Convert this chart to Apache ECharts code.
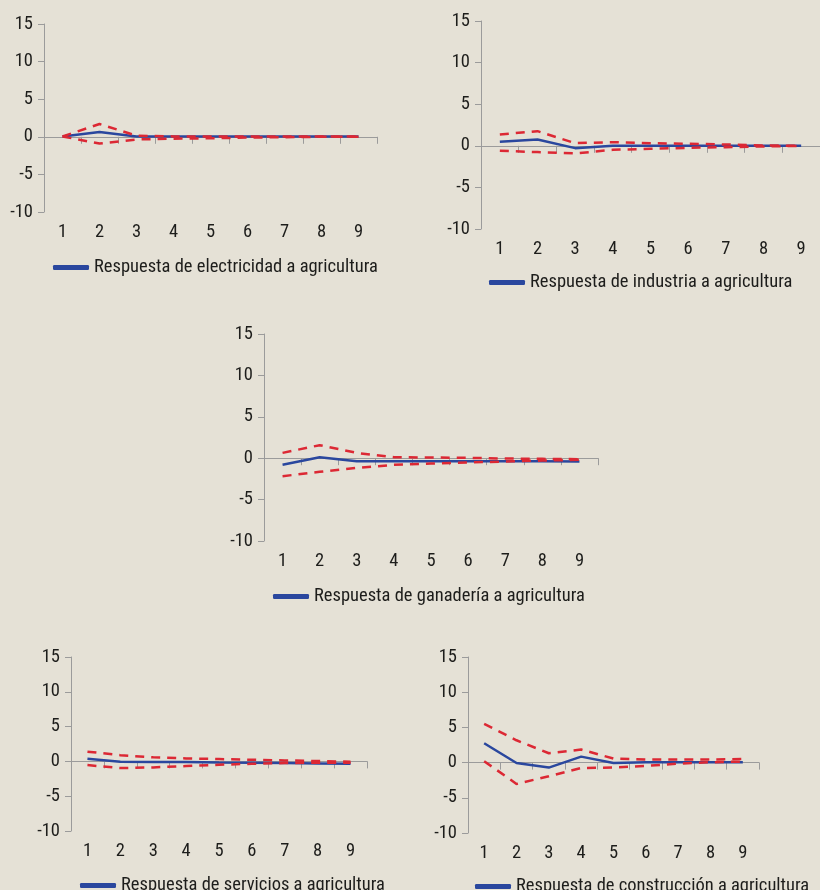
<!DOCTYPE html>
<html>
<head>
<meta charset="utf-8">
<script src="https://cdn.jsdelivr.net/npm/echarts@6/dist/echarts.min.js"></script>
<style>
  html, body { margin: 0; padding: 0; background: #e5e1d6; }
  #chart { width: 820px; height: 890px; }
</style>
</head>
<body>
<div id="chart"></div>
<script>
// Horizons (periods after the shock)
const periods = ['1', '2', '3', '4', '5', '6', '7', '8', '9'];
const yTicks = { min: -10, max: 15, step: 5 };

// Impulse responses to an agriculture shock, with confidence bands
const electricidad = [0.05, 0.65, 0.05, 0.05, 0.05, 0.05, 0.05, 0.05, 0.05];
const electricidadSup = [0.05, 1.7, 0.15, 0.05, 0.05, 0.05, 0.05, 0.05, 0.05];
const electricidadInf = [0.05, -0.9, -0.35, -0.25, -0.2, -0.1, -0.05, 0.0, 0.0];

const industria = [0.48, 0.76, -0.28, 0.0, 0.0, 0.0, 0.0, 0.0, 0.0];
const industriaSup = [1.36, 1.76, 0.32, 0.44, 0.32, 0.24, 0.16, 0.04, 0.0];
const industriaInf = [-0.6, -0.76, -0.92, -0.48, -0.36, -0.24, -0.16, -0.08, 0.0];

const ganaderia = [-0.8, 0.12, -0.36, -0.36, -0.36, -0.36, -0.36, -0.38, -0.4];
const ganaderiaSup = [0.64, 1.57, 0.64, 0.12, 0.08, 0.04, -0.04, -0.08, -0.12];
const ganaderiaInf = [-2.17, -1.65, -1.17, -0.8, -0.64, -0.52, -0.4, -0.28, -0.2];

const servicios = [0.38, -0.05, -0.1, -0.1, -0.15, -0.19, -0.24, -0.29, -0.34];
const serviciosSup = [1.4, 0.9, 0.58, 0.43, 0.34, 0.24, 0.14, 0.05, -0.05];
const serviciosInf = [-0.53, -0.96, -0.86, -0.67, -0.48, -0.34, -0.24, -0.19, -0.19];

const construccion = [2.75, -0.05, -0.71, 0.85, -0.05, 0.05, 0.05, 0.05, 0.05];
const construccionSup = [5.5, 3.17, 1.33, 1.85, 0.57, 0.43, 0.43, 0.43, 0.52];
const construccionInf = [0.2, -3.03, -1.94, -0.76, -0.71, -0.47, -0.14, 0.05, 0.14];

const panelNames = [
  'Respuesta de electricidad a agricultura',
  'Respuesta de industria a agricultura',
  'Respuesta de ganadería a agricultura',
  'Respuesta de servicios a agricultura',
  'Respuesta de construcción a agricultura'
];
const panelData = [
  [electricidad, electricidadSup, electricidadInf],
  [industria, industriaSup, industriaInf],
  [ganaderia, ganaderiaSup, ganaderiaInf],
  [servicios, serviciosSup, serviciosInf],
  [construccion, construccionSup, construccionInf]
];

// Layout of the five panels
const layout = [
  { grid: { left: 44, top: 24, width: 333, height: 188 }, legend: { left: 48, top: 253 } },
  { grid: { left: 481, top: 21, width: 345, height: 208 }, legend: { left: 484, top: 268 } },
  { grid: { left: 264, top: 334, width: 334, height: 207 }, legend: { left: 268, top: 582 } },
  { grid: { left: 71, top: 657, width: 296, height: 174 }, legend: { left: 75, top: 871 } },
  { grid: { left: 468, top: 657, width: 291, height: 176 }, legend: { left: 470, top: 872 } }
];

const FONT = '"Roboto Condensed", Roboto, sans-serif';
const FS = 18.5;
const TEXT = '#1d1d1b';
const AXIS = '#9b9b9b';
const BLUE = '#2a479e';
const RED = '#dc2834';

const grid = [], xAxis = [], yAxis = [], legend = [], series = [];
layout.forEach((p, i) => {
  grid.push(Object.assign({ containLabel: false }, p.grid));
  xAxis.push({
    type: 'category', gridIndex: i, data: periods, boundaryGap: true,
    axisLine: { lineStyle: { color: AXIS, width: 1 } },
    axisTick: { show: true, length: 7, lineStyle: { color: AXIS } },
    axisLabel: { color: TEXT, fontSize: FS, fontFamily: FONT, margin: 11 },
    splitLine: { show: false }
  });
  yAxis.push({
    type: 'value', gridIndex: i, min: yTicks.min, max: yTicks.max, interval: yTicks.step,
    axisLine: { show: true, lineStyle: { color: AXIS, width: 1 } },
    axisTick: { show: true, length: 6, lineStyle: { color: AXIS } },
    axisLabel: { color: TEXT, fontSize: FS, fontFamily: FONT, margin: 11 },
    splitLine: { show: false }
  });
  legend.push(Object.assign({
    data: [panelNames[i]], icon: 'roundRect', itemWidth: 36, itemHeight: 5, itemGap: 10,
    textStyle: { color: TEXT, fontSize: FS, fontFamily: FONT },
    selectedMode: false
  }, p.legend));
  const [mid, sup, inf] = panelData[i];
  series.push({
    name: panelNames[i], type: 'line', xAxisIndex: i, yAxisIndex: i, data: mid,
    symbol: 'none', lineStyle: { color: BLUE, width: 2.5 }, itemStyle: { color: BLUE },
    z: 2, silent: true
  });
  series.push({
    name: 'Límite superior ' + (i + 1), type: 'line', xAxisIndex: i, yAxisIndex: i, data: sup,
    symbol: 'none', lineStyle: { color: RED, width: 2.5, type: [9, 7] }, itemStyle: { color: RED },
    z: 3, silent: true
  });
  series.push({
    name: 'Límite inferior ' + (i + 1), type: 'line', xAxisIndex: i, yAxisIndex: i, data: inf,
    symbol: 'none', lineStyle: { color: RED, width: 2.5, type: [9, 7] }, itemStyle: { color: RED },
    z: 3, silent: true
  });
});

const chart = echarts.init(document.getElementById('chart'), null, { renderer: 'canvas' });
chart.setOption({
  backgroundColor: '#e5e1d6',
  animation: false,
  grid, xAxis, yAxis, legend, series
});
</script>
</body>
</html>
